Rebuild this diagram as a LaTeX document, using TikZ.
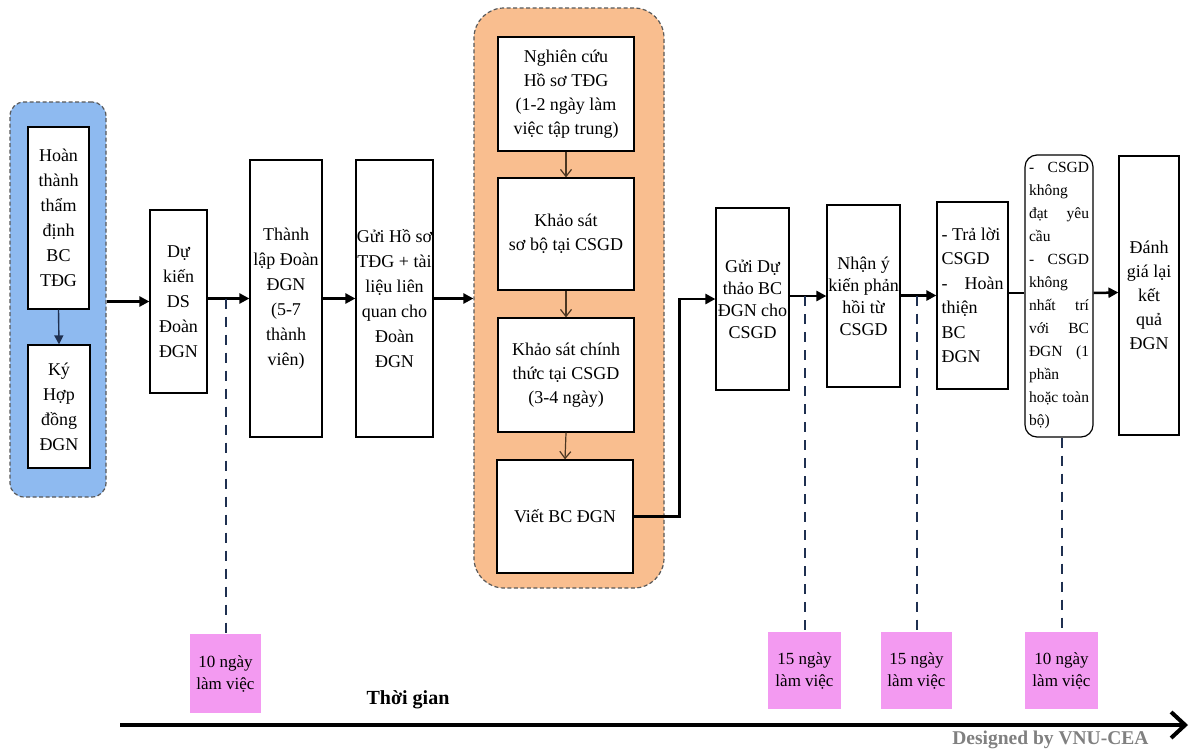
\documentclass[tikz,border=0pt]{standalone}
\usepackage{fontspec}
\setmainfont{Liberation Serif}
\usetikzlibrary{arrows.meta,calc}
\definecolor{grpblue}{HTML}{8EBAF0}
\definecolor{grporange}{HTML}{F9BE8F}
\definecolor{tagpink}{HTML}{F39AF1}
\definecolor{dashnavy}{HTML}{1F3050}
\definecolor{innerbrown}{HTML}{4B3621}
\definecolor{credgray}{HTML}{808080}
\begin{document}
\begin{tikzpicture}[x=1pt,y=-1pt,
  stepbox/.style={draw=black,line width=1.2pt,fill=white,align=center,inner sep=0pt,
     font=\fontsize{18}{25}\selectfont},
  grpbox/.style={draw=black!65,line width=1.2pt,dash pattern=on 4pt off 2.5pt,inner sep=0pt},
  tagbox/.style={fill=tagpink,align=center,inner sep=0pt,font=\fontsize{17}{22}\selectfont},
  mainarrow/.style={line width=2.5pt,-{Triangle[length=10pt,width=10pt]}},
  mainline/.style={line width=2.5pt},
  innerarrow/.style={draw=innerbrown,line width=1.2pt,-{Straight Barb[length=7pt,width=11pt]}},
  bluearrow/.style={draw=dashnavy,line width=1.4pt,-{Triangle[length=9pt,width=9pt]}},
  dashln/.style={draw=dashnavy,line width=2pt,dash pattern=on 10pt off 8pt},
]
\useasboundingbox (0,0) rectangle (1190,755);
\fill[white] (0,0) rectangle (1190,755);

% groups
\node[grpbox,fill=grpblue,rounded corners=14pt,minimum width=96pt,minimum height=395pt] (bg) at (58,299.5) {};
\node[grpbox,fill=grporange,rounded corners=30pt,minimum width=190pt,minimum height=580pt] (og) at (569,298) {};

% left boxes
\node[stepbox,minimum width=61pt,minimum height=182pt] (hoan) at (58.5,218) {Hoàn\\thành\\thẩm\\định\\BC\\TĐG};
\node[stepbox,minimum width=62pt,minimum height=123pt] (ky) at (59,406.5) {Ký\\Hợp\\đồng\\ĐGN};
\node[stepbox,minimum width=57pt,minimum height=183pt] (dk) at (178.5,301.5) {Dự\\kiến\\DS\\Đoàn\\ĐGN};
\node[stepbox,minimum width=72pt,minimum height=277pt] (tl) at (286,298.5) {Thành\\lập Đoàn\\ĐGN\\(5-7\\thành\\viên)};
\node[stepbox,minimum width=77pt,minimum height=277pt] (gui) at (394.5,298.5) {Gửi Hồ sơ\\TĐG + tài\\liệu liên\\quan cho\\Đoàn\\ĐGN};

% orange group boxes
\node[stepbox,minimum width=136pt,minimum height=114pt,font=\fontsize{18}{24}\selectfont] (ng) at (566,94) {Nghiên cứu\\Hồ sơ TĐG\\(1-2 ngày làm\\việc tập trung)};
\node[stepbox,minimum width=136pt,minimum height=112pt,font=\fontsize{18}{24}\selectfont] (ks1) at (566,234) {Khảo sát\\sơ bộ tại CSGD};
\node[stepbox,minimum width=136pt,minimum height=114pt,font=\fontsize{18}{24}\selectfont] (ks2) at (566,375) {Khảo sát chính\\thức tại CSGD\\(3-4 ngày)};
\node[stepbox,minimum width=136pt,minimum height=113pt] (viet) at (565,516.5) {Viết BC ĐGN};

% right boxes
\node[stepbox,minimum width=73pt,minimum height=182pt,font=\fontsize{18}{22}\selectfont] (gdt) at (752.5,299) {Gửi Dự\\thảo BC\\ĐGN cho\\CSGD};
\node[stepbox,minimum width=73pt,minimum height=182pt,font=\fontsize{18}{22}\selectfont] (nh) at (863.5,296) {Nhận ý\\kiến phản\\hồi từ\\CSGD};
\node[stepbox,minimum width=71pt,minimum height=187pt,font=\fontsize{18}{24.5}\selectfont] (tr) at (972.5,295.5)
  {\begin{minipage}{62pt}\raggedright -~Trả lời\\CSGD\\-\hfill Hoàn\\thiện\\BC\\ĐGN\end{minipage}};
\node[stepbox,rounded corners=12pt,minimum width=68pt,minimum height=282pt,font=\fontsize{15.5}{23}\selectfont] (rb) at (1059,296)
  {\begin{minipage}{60pt}\raggedright -\hfill CSGD\\không\\đạt\hfill yêu\\cầu\\-\hfill CSGD\\không\\nhất\hfill trí\\với\hfill BC\\ĐGN\hfill (1\\phần\\hoặc\hfill toàn\\bộ)\end{minipage}};
\node[stepbox,minimum width=60pt,minimum height=279pt,font=\fontsize{18}{24}\selectfont] (dg) at (1149,295.5) {Đánh\\giá lại\\kết\\quả\\ĐGN};

% time tags
\node[tagbox,minimum width=71pt,minimum height=79pt] (p1) at (225.5,673.5) {10 ngày\\làm việc};
\node[tagbox,minimum width=73pt,minimum height=77pt] (p2) at (804.5,670.5) {15 ngày\\làm việc};
\node[tagbox,minimum width=71pt,minimum height=77pt] (p3) at (916.5,670.5) {15 ngày\\làm việc};
\node[tagbox,minimum width=73pt,minimum height=77pt] (p4) at (1061.5,670.5) {10 ngày\\làm việc};

% connectors
\draw[bluearrow] (hoan.south) -- (ky.north);
\draw[mainarrow] (bg.east |- dk.west) -- (dk.west);
\draw[mainarrow] (dk.east |- tl.west) -- (tl.west);
\draw[mainarrow] (tl.east) -- (gui.west);
\draw[mainarrow] (gui.east) -- (gui.east -| og.west);
\draw[innerarrow] (ng.south) -- (ks1.north);
\draw[innerarrow] (ks1.south) -- (ks2.north);
\draw[innerarrow] (ks2.south) -- (viet.north);
\coordinate (bend) at ($(viet.east)+(46,0)$);
\draw[mainline,-{Triangle[length=10pt,width=10pt]}] (viet.east) -- (bend) |- (gdt.west);
\draw[mainarrow] (gdt.east |- nh.west) -- (nh.west);
\draw[mainarrow] (nh.east |- tr.west) -- (tr.west);
\coordinate (rbin) at ($(rb.west)+(0,-3)$);
\draw[mainline] (tr.east |- rbin) -- (rbin);
\draw[mainarrow] ($(rb.east)+(0,-3)$) -- ($(dg.west)+(0,-3)$);

% dashed timing lines
\draw[dashln] (p1.north |- tl.west) -- (p1.north);
\draw[dashln] (p2.north |- nh.west) -- (p2.north);
\draw[dashln] (p3.north |- tr.west) -- (p3.north);
\draw[dashln] (p4.north |- rb.south) -- (p4.north);

% timeline
\coordinate (t0) at (120,725);
\coordinate (t1) at (1188,725);
\draw[line width=4pt,-{Straight Barb[length=14pt,width=26pt,line width=4pt]}] (t0) -- (t1);
\node[font=\bfseries\fontsize{20}{24}\selectfont] (tg) at (408,700) {Thời gian};
\node[font=\bfseries\fontsize{19.5}{23}\selectfont,text=credgray,anchor=east] (cr) at (1152,740) {Designed by VNU-CEA};
\end{tikzpicture}
\end{document}
